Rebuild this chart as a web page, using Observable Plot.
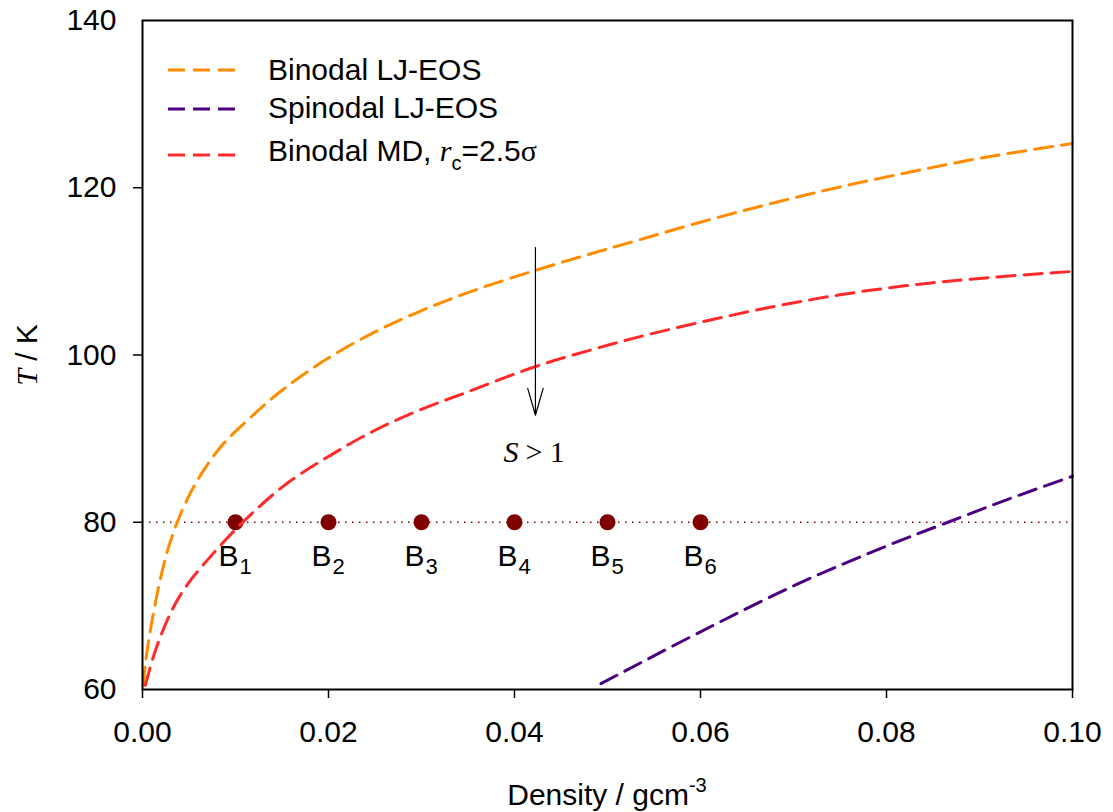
<!DOCTYPE html>
<html><head><meta charset="utf-8">
<script src="https://cdn.jsdelivr.net/npm/d3@7"></script>
<script src="https://cdn.jsdelivr.net/npm/@observablehq/plot@0.6"></script>
<style>body{margin:0;background:#fff} svg{display:block}</style>
</head><body><div id="chart"></div>
<script>
// Binodal LJ-EOS
const binodalEosRho = [0.0001,0.0003,0.0009,0.0018,0.0028,0.0041,0.0059,0.0084,0.0113,0.0148,0.0195,0.0249,0.0302,0.0356,0.0422,0.0482,0.0535,0.0607,0.0679,0.0750,0.0822,0.0894,0.1000];
const binodalEosT   = [60.5,63.0,67.4,72.6,77.0,81.0,85.0,89.0,92.2,95.6,99.3,102.7,105.4,107.7,110.1,112.1,113.8,116.1,118.2,120.1,121.8,123.4,125.3];
// Spinodal LJ-EOS
const spinodalRho = [0.0493,0.0600,0.0704,0.0801,0.0866,0.0932,0.1000];
const spinodalT   = [60.7,66.9,72.6,77.2,80.0,82.8,85.5];
// Binodal MD, rc = 2.5 sigma
const binodalMdRho = [0.0003,0.0014,0.0030,0.0046,0.0070,0.0098,0.0123,0.0156,0.0202,0.0250,0.0300,0.0350,0.0422,0.0482,0.0535,0.0607,0.0679,0.0750,0.0822,0.0894,0.1000];
const binodalMdT   = [60.5,64.7,69.1,72.2,75.5,78.9,81.6,84.7,88.0,91.0,93.5,95.6,98.6,100.6,102.2,104.1,105.8,107.2,108.3,109.1,110.0];
// State points B1..B6
const pointRho = [0.01,0.02,0.03,0.04,0.05,0.06];
const pointT = [80,80,80,80,80,80];
const pointIndex = ["1","2","3","4","5","6"];
const refT = 80;
// Arrow / annotation
const arrowRho = 0.04225, arrowT1 = 112.85, arrowT2 = 92.8;
const sLabelT = 87.15;
// Ticks
const xTicks = [0,0.02,0.04,0.06,0.08,0.10];
const yTicks = [60,80,100,120,140];
const yTickMarks = [80,100,120];

const seriesNames = ["Binodal LJ-EOS","Spinodal LJ-EOS","Binodal MD"];
const seriesColors = ["#FF8C00","#4B0082","#FF2A2A"];

const zip = (xs, ys) => xs.map((x, i) => ({x, y: ys[i]}));
const orange = zip(binodalEosRho, binodalEosT);
const purple = zip(spinodalRho, spinodalT);
const red = zip(binodalMdRho, binodalMdT);
const points = pointRho.map((x, i) => ({x, y: pointT[i], s: pointIndex[i]}));

const dash = {strokeWidth: 3, strokeDasharray: "18,9", curve: "catmull-rom"};

const chart = Plot.plot({
  width: 1113, height: 812,
  marginLeft: 142, marginRight: 41, marginTop: 20, marginBottom: 123,
  style: {fontFamily: "'Liberation Sans', Arial, sans-serif", fontSize: "30px", background: "#fff", color: "black", overflow: "visible"},
  x: {domain: [0, 0.1]},
  y: {domain: [60, 140]},
  marks: [
    Plot.ruleY([refT], {stroke: "#800000", strokeWidth: 1.5, strokeDasharray: "1.5,5.5"}),
    Plot.dot(points, {x: "x", y: "y", r: 8, fill: "#800000", stroke: "none"}),
    Plot.line(orange, {x: "x", y: "y", stroke: seriesColors[0], ...dash}),
    Plot.line(purple, {x: "x", y: "y", stroke: seriesColors[1], ...dash}),
    Plot.line(red, {x: "x", y: "y", stroke: seriesColors[2], ...dash}),
    Plot.text(points, {x: "x", y: "y", text: () => "B", textAnchor: "end", lineAnchor: "bottom", dx: 3, dy: 44, fontSize: 30}),
    Plot.text(points, {x: "x", y: "y", text: "s", textAnchor: "start", lineAnchor: "bottom", dx: 4, dy: 52, fontSize: 22}),
    Plot.arrow([{x: arrowRho, y1: arrowT1, y2: arrowT2}], {x1: "x", x2: "x", y1: "y1", y2: "y2", stroke: "black", strokeWidth: 1.2, headLength: 35, headAngle: 32}),
    Plot.text([{x: arrowRho, y: sLabelT}], {x: "x", y: "y", text: () => "S", textAnchor: "end", lineAnchor: "bottom", dx: -17, fontFamily: "'Liberation Serif', 'Times New Roman', serif", fontStyle: "italic", fontSize: 30}),
    Plot.text([{x: arrowRho, y: sLabelT}], {x: "x", y: "y", text: () => "> 1", textAnchor: "start", lineAnchor: "bottom", dx: -10, fontFamily: "'Liberation Serif', 'Times New Roman', serif", fontSize: 30}),
    Plot.axisX({ticks: xTicks, tickSize: 9, tickPadding: 22, tickFormat: d3.format(".2f"), label: null, strokeWidth: 1.5, fontSize: 30}),
    Plot.axisY({ticks: yTicks, tickSize: 0, tickPadding: 26, label: null, fontSize: 30}),
    Plot.axisY({ticks: yTickMarks, tickSize: 9, tickFormat: () => "", label: null, strokeWidth: 1.5}),
    Plot.frame({stroke: "black", strokeWidth: 2})
  ]
});
document.getElementById("chart").appendChild(chart);

const svg = d3.select(chart);
// X axis label
const xl = svg.append("text").attr("x", 607).attr("y", 805).attr("text-anchor", "middle").attr("fill", "black").style("font-size", "30px");
xl.append("tspan").text("Density / gcm");
xl.append("tspan").attr("dy", -13).style("font-size", "20px").text("-3");
// Y axis label
const yl = svg.append("text").attr("transform", "translate(37,355) rotate(-90)").attr("text-anchor", "middle").attr("fill", "black").style("font-size", "30px");
yl.append("tspan").style("font-family", "'Liberation Serif', serif").style("font-style", "italic").text("T");
yl.append("tspan").text(" / K");
// Legend
const legendLineY = [70, 109, 155];
const legendTextY = [80, 118, 161];
const lg = svg.append("g").attr("text-anchor", "start");
seriesNames.forEach((name, i) => {
  lg.append("line").attr("x1", 168).attr("x2", 240).attr("y1", legendLineY[i]).attr("y2", legendLineY[i])
    .attr("stroke", seriesColors[i]).attr("stroke-width", 3).attr("stroke-dasharray", "17,8");
  const t = lg.append("text").attr("x", 268).attr("y", legendTextY[i]).attr("text-anchor", "start").attr("fill", "black").style("font-size", "30px");
  if (i < 2) {
    t.text(name);
  } else {
    t.append("tspan").text(name + ", ");
    t.append("tspan").style("font-family", "'Liberation Serif', serif").style("font-style", "italic").text("r");
    t.append("tspan").attr("dy", 9).style("font-size", "20px").text("c");
    t.append("tspan").attr("dy", -9).text("=2.5");
    t.append("tspan").style("font-family", "'Liberation Serif', serif").text("σ");
  }
});
</script>
</body></html>
